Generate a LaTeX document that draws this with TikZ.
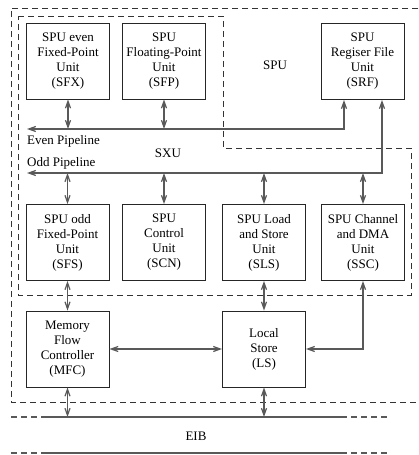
\documentclass[tikz,border=0pt]{standalone}
\usepackage{fontspec}
\setmainfont{Liberation Serif}
\usetikzlibrary{arrows.meta}
\begin{document}
\begin{tikzpicture}[x=1pt,y=-1pt,
  >={Straight Barb[length=7pt,width=5pt]},
  unit/.style={draw=black!85, line width=0.9pt, minimum width=83pt, minimum height=76pt, inner sep=0pt, align=center, font=\fontsize{13}{15}\selectfont},
  conn/.style={draw=black!65, line width=1.2pt},
  region/.style={draw=black!80, line width=0.9pt, dash pattern=on 6pt off 4pt},
  bus/.style={draw=black!65, line width=1.2pt},
  busdash/.style={draw=black!65, line width=1.2pt, dash pattern=on 6pt off 4pt},
  lbl/.style={inner sep=0pt, font=\fontsize{13}{15}\selectfont}]
\useasboundingbox (0,0) rectangle (418,455);

% regions
\draw[region] (418,8) -- (11,8) -- (11,402) -- (418,402);
\draw[region] (18,16) -- (223,16) -- (223,148) -- (411,148) -- (411,295) -- (18,295) -- cycle;

% units
\node[unit] (sfx) at (68,61) {SPU even\\Fixed-Point\\Unit\\(SFX)};
\node[unit] (sfp) at (164,61) {SPU\\Floating-Point\\Unit\\(SFP)};
\node[unit] (srf) at (362.5,61.5) {SPU\\Regiser File\\Unit\\(SRF)};
\node[unit] (sfs) at (67.5,242.5) {SPU odd\\Fixed-Point\\Unit\\(SFS)};
\node[unit] (scn) at (164,242.5) {SPU\\Control\\Unit\\(SCN)};
\node[unit] (sls) at (264,242.5) {SPU Load\\and Store\\Unit\\(SLS)};
\node[unit] (ssc) at (363,242.5) {SPU Channel\\and DMA\\Unit\\(SSC)};
\node[unit] (mfc) at (67.5,349) {Memory\\Flow\\Controller\\(MFC)};
\node[unit] (ls) at (264,349) {Local\\Store\\(LS)};

% labels
\node[lbl] (spulbl) at (275,65) {SPU};
\node[lbl] (sxulbl) at (168,153) {SXU};
\node[lbl, anchor=west] (evenlbl) at (27,141) {Even Pipeline};
\node[lbl, anchor=west] (oddlbl) at (27,163) {Odd Pipeline};
\node[lbl] (eiblbl) at (196,436) {EIB};

% pipelines
\coordinate (evenL) at (27,129);
\coordinate (oddL) at (27,173);
\draw[conn,<->] (evenL) -| ([xshift=-18.5pt]srf.south);
\draw[conn,<->] (oddL) -| ([xshift=19.5pt]srf.south);
\draw[conn,<->] (sfx.south) -- (sfx.south |- evenL);
\draw[conn,<->] (sfp.south) -- (sfp.south |- evenL);
\draw[conn,<->] (sfs.north) -- (sfs.north |- oddL);
\draw[conn,<->] (scn.north) -- (scn.north |- oddL);
\draw[conn,<->] (sls.north) -- (sls.north |- oddL);
\draw[conn,<->] (ssc.north) -- (ssc.north |- oddL);

% lower connections
\draw[conn,<->] (sfs.south) -- (mfc.north);
\draw[conn,<->] (sls.south) -- (ls.north);
\draw[conn,<->] (ssc.south) |- (ls.east);
\draw[conn,<->] (mfc.east) -- (ls.west);

% EIB
\coordinate (eibA) at (11,417);
\coordinate (eibB) at (45,417);
\coordinate (eibC) at (347,417);
\coordinate (eibD) at (351,417);
\coordinate (eibE) at (390,417);
\coordinate (eibF) at (11,453);
\coordinate (eibG) at (45,453);
\coordinate (eibH) at (347,453);
\coordinate (eibI) at (351,453);
\coordinate (eibJ) at (390,453);
\draw[busdash] (eibA) -- (eibB);
\draw[bus] (eibB) -- (eibC);
\draw[busdash] (eibD) -- (eibE);
\draw[busdash] (eibF) -- (eibG);
\draw[bus] (eibG) -- (eibH);
\draw[busdash] (eibI) -- (eibJ);
\draw[conn,<->] (mfc.south) -- (mfc.south |- eibA);
\draw[conn,<->] (ls.south) -- (ls.south |- eibA);
\end{tikzpicture}
\end{document}
